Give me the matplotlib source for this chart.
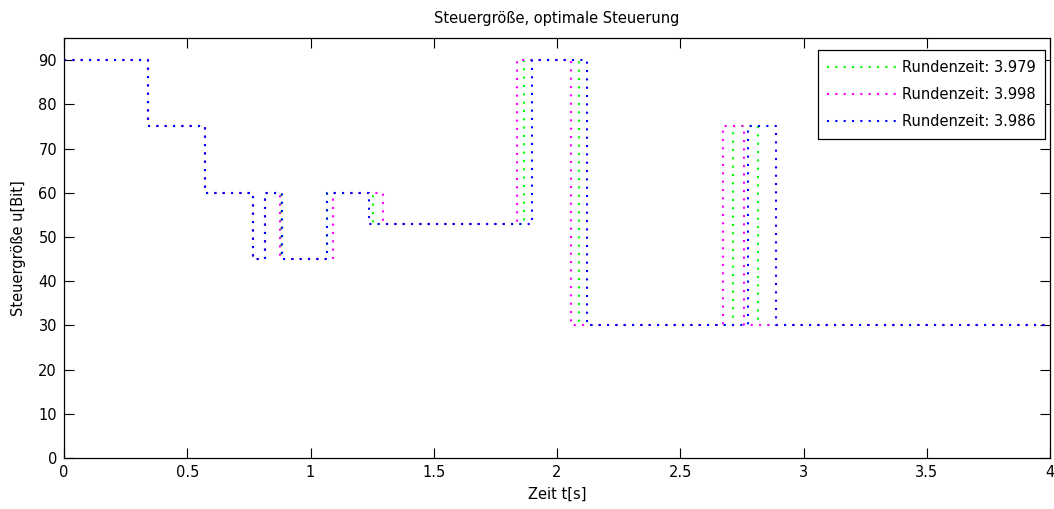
import numpy as np
import matplotlib.pyplot as plt

plt.rcParams['font.family'] = ['DejaVu Sans']

# switching times [s] and control levels [Bit] per run
t_green = [0, 0.34, 0.572, 0.767, 0.815, 0.88, 1.066, 1.254, 1.866, 2.089, 2.714, 2.815, 4]
t_magenta = [0, 0.34, 0.572, 0.767, 0.815, 0.875, 1.091, 1.294, 1.838, 2.057, 2.674, 2.759, 4]
t_blue = [0, 0.34, 0.572, 0.767, 0.815, 0.885, 1.066, 1.237, 1.899, 2.12, 2.774, 2.887, 4]
u_levels = [90, 75, 60, 45, 60, 45, 60, 53, 90, 30, 75, 30, 30]

labels = ['Rundenzeit: 3.979', 'Rundenzeit: 3.998', 'Rundenzeit: 3.986']
colors = ['#00ff00', '#ff00ff', '#0000ff']

x_ticks = [0, 0.5, 1, 1.5, 2, 2.5, 3, 3.5, 4]
x_ticklabels = ['0', '0.5', '1', '1.5', '2', '2.5', '3', '3.5', '4']
y_ticks = np.arange(0, 91, 10)

fs = 10.5

fig = plt.figure(figsize=(10.54, 5.09), dpi=100)
ax = fig.add_axes([64 / 1054, 1 - 458 / 509, 986 / 1054, 420 / 509])

for t, c, lab in zip([t_green, t_magenta, t_blue], colors, labels):
    ax.plot(t, u_levels, drawstyle='steps-post', color=c, lw=1.5,
            linestyle=(0, (1, 3)), label=lab)

ax.set_xlim(0, 4)
ax.set_ylim(0, 95)
ax.set_xticks(x_ticks)
ax.set_xticklabels(x_ticklabels)
ax.set_yticks(y_ticks)
ax.tick_params(direction='in', length=7, width=0.8, top=True, right=True,
               labelsize=fs, pad=5)
for s in ax.spines.values():
    s.set_linewidth(0.9)

ax.set_title('Steuergröße, optimale Steuerung', fontsize=fs, pad=11)
ax.set_xlabel('Zeit t[s]', fontsize=fs, labelpad=5)
ax.set_ylabel('Steuergröße u[Bit]', fontsize=fs, labelpad=9)

leg = ax.legend(loc='upper right', bbox_to_anchor=(0.995, 0.971), fontsize=fs,
                fancybox=False, edgecolor='black', framealpha=1,
                handlelength=4.8, handletextpad=0.3, labelspacing=0.85,
                borderpad=0.65, borderaxespad=0)
leg.get_frame().set_linewidth(0.9)

fig.savefig('out.png', dpi=100)
